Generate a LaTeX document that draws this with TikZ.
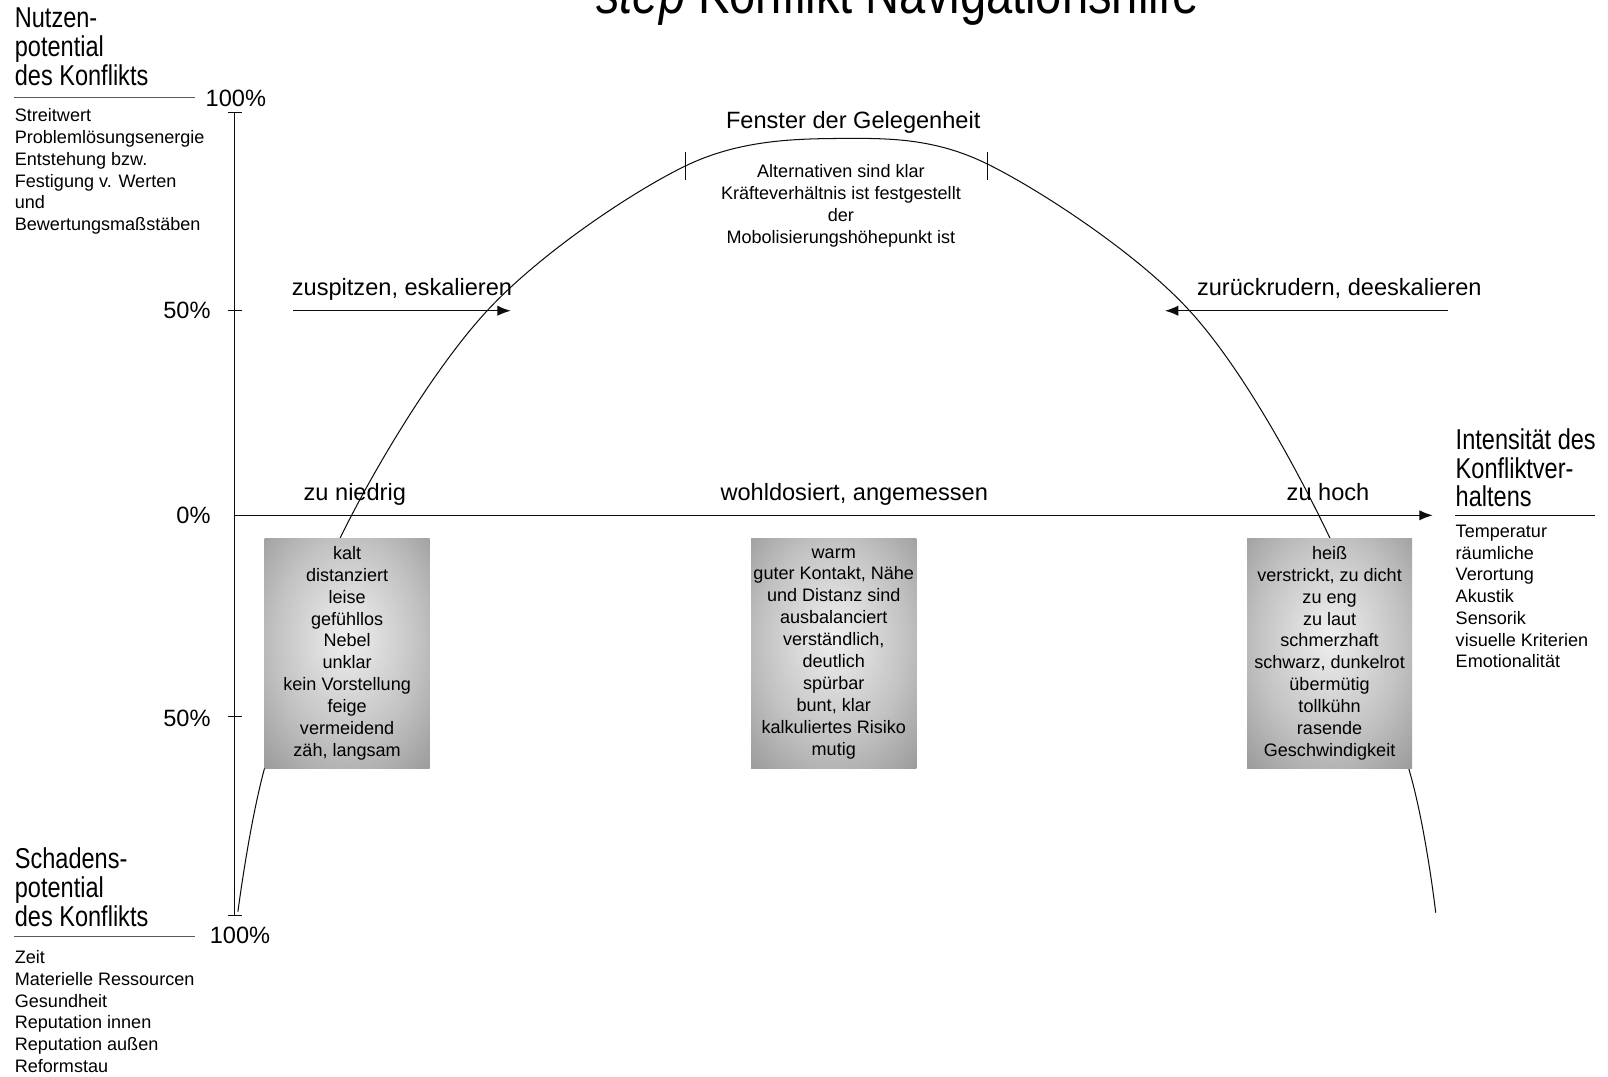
\documentclass[tikz,border=0pt]{standalone}
\usepackage{fontspec}
\setmainfont{Liberation Sans}
\newfontfamily\tallsans[FakeStretch=0.82]{Liberation Sans}
\usetikzlibrary{positioning,arrows.meta}
\definecolor{ink}{gray}{0.05}
\definecolor{rulegray}{gray}{0.35}
\pgfdeclareradialshading{moodglow}{\pgfpoint{0bp}{4bp}}{color(0bp)=(white!94!black); color(22bp)=(white!76!black);
  color(50bp)=(white!47!black); color(72bp)=(white!38!black)}

\begin{document}
\begin{tikzpicture}[x=0.5pt, y=-0.5pt, line width=0.5pt,
  font=\fontsize{11.5}{13}\selectfont,
  biglabel/.style={anchor=south west, inner sep=0pt, align=left, font=\tallsans\fontsize{14}{14}\selectfont},
  smalllist/.style={anchor=north west, inner sep=0pt, align=left, font=\fontsize{8.8}{10.6}\selectfont},
  moodbox/.style={minimum width=80.5pt, minimum height=112pt, inner sep=0pt, align=center,
    shading=moodglow, font=\fontsize{8.8}{10.7}\selectfont},
  tip/.style={-{Latex[length=6.5pt,width=5pt]}}]
  \useasboundingbox[fill=white] (0,0) rectangle (1568,1050);

  \node[anchor=base, font=\tallsans\fontsize{28}{30}\selectfont] (title) at (875,13) {\textit{step} Konflikt Navigationshilfe};

  % axes
  \coordinate (ytop) at (229,110);
  \coordinate (ybot) at (229,893);
  \coordinate (orig) at (229,502.5);
  \coordinate (xend) at (1397,502.5);
  \draw[ink] (ytop) -- (ybot);
  \draw[ink,tip] (orig) -- (xend);
  \foreach \y in {110,303,699,893}
    \draw[ink] (222,\y) -- (236,\y);
  \node[anchor=base] (ptop) at (230,103.5) {100\%};
  \node[anchor=base east] (pfifty) at (212.5,311) {50\%};
  \node[anchor=base east] (pzero) at (212.5,510) {0\%};
  \node[anchor=base east] (pfiftyb) at (212.5,708) {50\%};
  \node[anchor=base] (pbot) at (234,920) {100\%};

  % curve
  \draw[ink] plot[smooth, tension=0.55] coordinates {(232,889) (258,749) (331,526) (475,303) (668,162)
    (820,135) (963,160) (1160,303) (1297,525) (1375,754) (1400,890)};
  \coordinate (winL) at (668,162);
  \coordinate (winR) at (963,160);
  \draw[ink] (winL) ++(0,-14) -- ++(0,28);
  \draw[ink] (winR) ++(0,-12) -- ++(0,28);
  \node[anchor=base] (fenster) at (832,125) {Fenster der Gelegenheit};
  \node[anchor=north, inner sep=0pt, align=center, font=\fontsize{8.8}{10.8}\selectfont] (window) at (820,159.5)
    {Alternativen sind klar\\Kräfteverhältnis ist festgestellt\\der\\Mobolisierungshöhepunkt ist};

  % escalation arrows
  \coordinate (escA) at (286,303);
  \coordinate (escB) at (498,303);
  \coordinate (deeA) at (1412,303);
  \coordinate (deeB) at (1136,303);
  \draw[ink,tip] (escA) -- (escB);
  \draw[ink,tip] (deeA) -- (deeB);
  \node[anchor=base] (esc) at (392,288) {zuspitzen, eskalieren};
  \node[anchor=base] (dee) at (1306,288) {zurückrudern, deeskalieren};

  \node[anchor=base] (low) at (346,488) {zu niedrig};
  \node[anchor=base] (mid) at (833,488) {wohldosiert, angemessen};
  \node[anchor=base] (high) at (1295,488) {zu hoch};

  % side labels
  \node[biglabel] (nutzen) at (14,84) {Nutzen-\\potential\\des Konflikts};
  \draw[rulegray] (14,95) -- (190,95);
  \node[smalllist] (nutzenlist) at (14,105.5) {Streitwert\\Problemlösungsenergie\\Entstehung bzw.\\Festigung v. Werten\\und\\Bewertungsmaßstäben};

  \node[biglabel] (schaden) at (14,904) {Schadens-\\potential\\des Konflikts};
  \draw[rulegray] (14,913) -- (190,913);
  \node[smalllist] (schadenlist) at (14,926.5) {Zeit\\Materielle Ressourcen\\Gesundheit\\Reputation innen\\Reputation außen\\Reformstau};

  \node[biglabel] (intens) at (1419,495) {Intensität des\\Konfliktver-\\haltens};
  \draw[ink] (1419,503) -- (1555,503);
  \node[smalllist] (intenslist) at (1419,511.5) {Temperatur\\räumliche\\Verortung\\Akustik\\Sensorik\\visuelle Kriterien\\Emotionalität};

  % mood boxes
  \node[moodbox] (cold) at (338.5,637) {kalt\\distanziert\\leise\\gefühllos\\Nebel\\unklar\\kein Vorstellung\\feige\\vermeidend\\zäh, langsam};
  \node[moodbox] (warm) at (813,637.5) {warm\\guter Kontakt, Nähe\\und Distanz sind\\ausbalanciert\\verständlich,\\deutlich\\spürbar\\bunt, klar\\kalkuliertes Risiko\\mutig};
  \node[moodbox] (hot) at (1296.5,637) {heiß\\verstrickt, zu dicht\\zu eng\\zu laut\\schmerzhaft\\schwarz, dunkelrot\\übermütig\\tollkühn\\rasende\\Geschwindigkeit};
\end{tikzpicture}
\end{document}
